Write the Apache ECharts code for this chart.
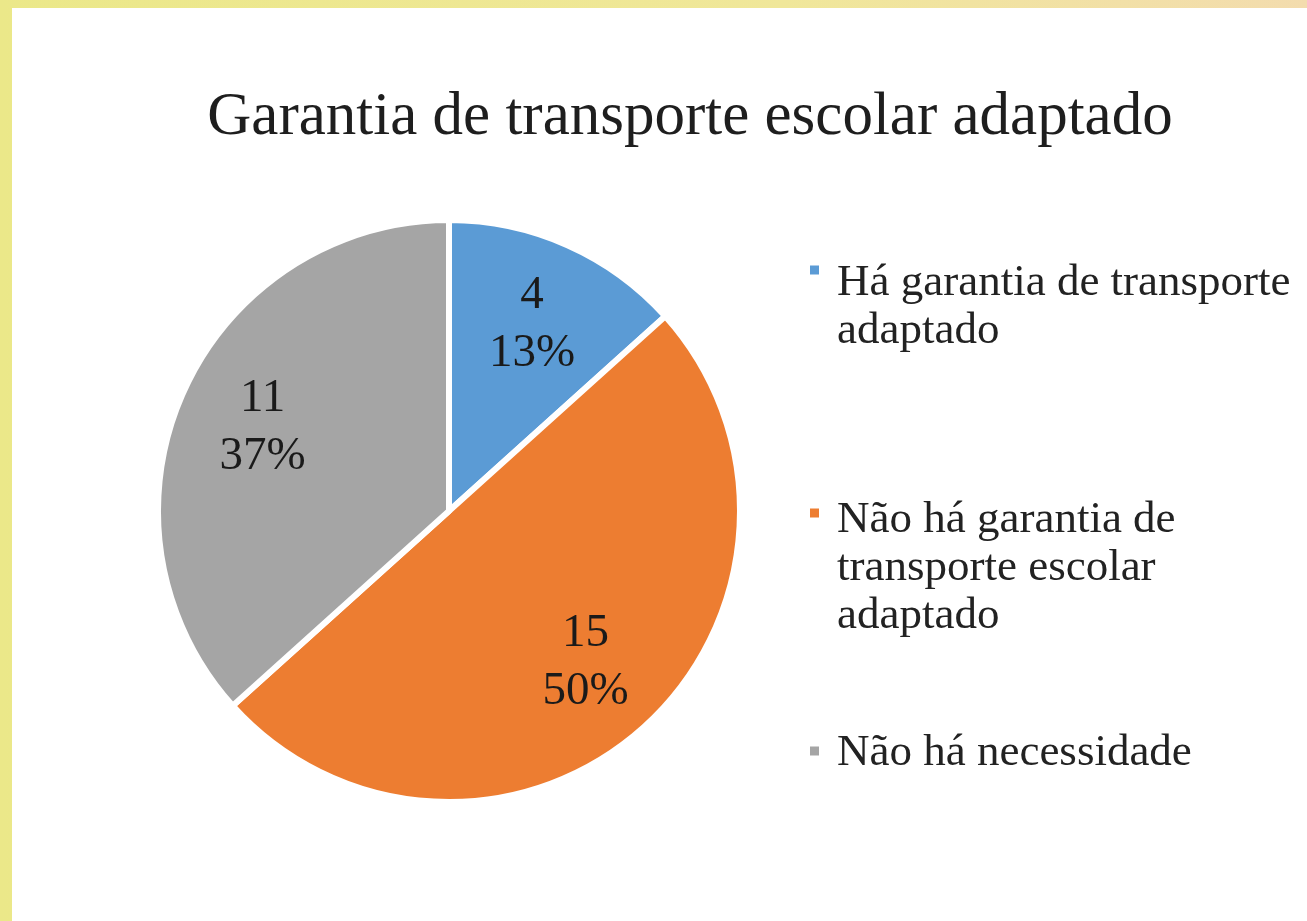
<!DOCTYPE html>
<html>
<head>
<meta charset="utf-8">
<title>Garantia de transporte escolar adaptado</title>
<script src="https://cdn.jsdelivr.net/npm/echarts@6/dist/echarts.min.js"></script>
<style>
    html, body {
        margin: 0;
        padding: 0;
        width: 1307px;
        height: 921px;
        overflow: hidden;
        background: linear-gradient(90deg, #ebe889 0%, #f0e79a 60%, #f3dcae 100%);
    }
    #chart {
        position: absolute;
        left: 12px;
        top: 8px;
        width: 1295px;
        height: 913px;
        background: #ffffff;
    }
</style>
</head>
<body>
<div id="chart"></div>
<script>
// 資料
const categories = [
    'Há garantia de transporte adaptado',
    'Não há garantia de transporte escolar adaptado',
    'Não há necessidade'
]
const legendLabels = [
    'Há garantia de transporte\nadaptado',
    'Não há garantia de\ntransporte escolar\nadaptado',
    'Não há necessidade'
]
const values = [4, 15, 11]
const colors = ['#5b9bd5', '#ed7d31', '#a5a5a5']

const serif = "'Liberation Serif', 'Times New Roman', serif"
const chart = echarts.init(document.getElementById('chart'))

const pieData = categories.map((name, i) => ({ name, value: values[i] }))

// 每個圖例單獨放置，用空白行把文字往下推，讓圖示對齊第一行
const legendTops = [177, 378, 717]
const legendGaps = [74, 110, 4]
const legends = categories.map((name, i) => ({
    orient: 'vertical',
    left: 796,
    top: legendTops[i],
    padding: 0,
    icon: 'rect',
    itemWidth: 11,
    itemHeight: 11,
    selectedMode: false,
    data: [name],
    formatter: () => (legendGaps[i] ? '{gap| }\n' : '') + legendLabels[i],
    textStyle: {
        fontFamily: serif,
        fontSize: 45,
        lineHeight: 48,
        color: '#222222',
        padding: [0, 0, 0, 12],
        rich: {
            gap: { fontSize: 1, lineHeight: legendGaps[i], height: legendGaps[i] }
        }
    }
}))

chart.setOption({
    color: colors,
    animation: false,
    title: {
        text: 'Garantia de transporte escolar adaptado',
        left: 673,
        top: 74,
        textAlign: 'center',
        textStyle: {
            fontFamily: serif,
            fontSize: 61,
            fontWeight: 'normal',
            color: '#1e1e1e'
        }
    },
    legend: legends,
    series: [
        {
            type: 'pie',
            center: [437, 503],
            radius: [0, 291],
            startAngle: 90,
            clockwise: true,
            silent: true,
            label: { show: false },
            labelLine: { show: false },
            itemStyle: { borderColor: '#ffffff', borderWidth: 6 },
            data: pieData
        },
        {
            // 標籤層
            type: 'pie',
            center: [437, 503],
            radius: [150, 252],
            startAngle: 90,
            clockwise: true,
            silent: true,
            legendHoverLink: false,
            itemStyle: { color: 'transparent' },
            label: {
                show: true,
                position: 'inside',
                fontFamily: serif,
                fontSize: 47,
                lineHeight: 58,
                color: '#1a1a1a',
                formatter: p => `${p.value}\n${Math.round(p.percent)}%`
            },
            labelLine: { show: false },
            data: pieData
        }
    ]
})
</script>
</body>
</html>
